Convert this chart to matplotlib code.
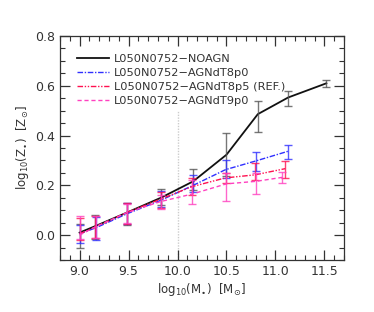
import matplotlib
matplotlib.use("Agg")
import matplotlib.pyplot as plt
from matplotlib.ticker import MultipleLocator

plt.rcParams['font.family'] = ['DejaVu Sans']
plt.rcParams['mathtext.default'] = 'regular'

labels = ["L050N0752\u2212NOAGN", "L050N0752\u2212AGNdT8p0",
          "L050N0752\u2212AGNdT8p5 (REF.)", "L050N0752\u2212AGNdT9p0"]

x_noagn = [9.0, 9.16, 9.48, 9.83, 10.16, 10.5, 10.82, 11.13, 11.52]
y_noagn = [0.01, 0.036, 0.09, 0.15, 0.216, 0.323, 0.486, 0.553, 0.61]
lo_noagn = [-0.05, -0.015, 0.04, 0.119, 0.183, 0.236, 0.414, 0.517, 0.594]
hi_noagn = [0.043, 0.079, 0.127, 0.187, 0.264, 0.41, 0.537, 0.58, 0.624]

x_t8p0 = [9.0, 9.17, 9.48, 9.83, 10.16, 10.49, 10.8, 11.13]
y_t8p0 = [0.005, 0.03, 0.085, 0.14, 0.2, 0.263, 0.298, 0.337]
lo_t8p0 = [-0.03, -0.02, 0.045, 0.112, 0.174, 0.23, 0.256, 0.306]
hi_t8p0 = [0.04, 0.072, 0.127, 0.176, 0.24, 0.303, 0.334, 0.363]

x_t8p5 = [9.0, 9.16, 9.48, 9.83, 10.15, 10.49, 10.79, 11.1]
y_t8p5 = [0.005, 0.032, 0.09, 0.145, 0.195, 0.23, 0.242, 0.267]
lo_t8p5 = [-0.02, -0.012, 0.045, 0.11, 0.16, 0.21, 0.22, 0.23]
hi_t8p5 = [0.07, 0.078, 0.127, 0.172, 0.23, 0.25, 0.29, 0.297]

x_t9p0 = [9.0, 9.17, 9.48, 9.83, 10.15, 10.5, 10.8, 11.07]
y_t9p0 = [0.0, 0.035, 0.09, 0.135, 0.165, 0.206, 0.216, 0.232]
lo_t9p0 = [-0.017, -0.01, 0.05, 0.105, 0.123, 0.136, 0.165, 0.21]
hi_t9p0 = [0.075, 0.075, 0.125, 0.16, 0.223, 0.25, 0.25, 0.255]

series = [
    (x_noagn, y_noagn, lo_noagn, hi_noagn, '#111111', '-', 1.3, '#555555'),
    (x_t8p0, y_t8p0, lo_t8p0, hi_t8p0, '#3030ff', (0, (4, 1.2, 1, 1.2)), 1.0, '#3030ff'),
    (x_t8p5, y_t8p5, lo_t8p5, hi_t8p5, '#ff1050', (0, (4, 1.2, 1, 1.2, 1, 1.2)), 1.0, '#ff1050'),
    (x_t9p0, y_t9p0, lo_t9p0, hi_t9p0, '#ff40c0', (0, (3, 2)), 1.0, '#ff40c0'),
]

fig = plt.figure(figsize=(3.74, 3.12), dpi=100)
ax = fig.add_axes([0.1604, 0.1667, 0.7594, 0.7179])

ax.plot([10.0, 10.0], [-0.1, 0.5], color='#cccccc', ls=(0, (1, 1)), lw=1.0, zorder=0)

for (xs, ys, lo, hi, c, ls, lw, ec), lab in zip(series, labels):
    ax.plot(xs, ys, color=c, ls=ls, lw=lw, label=lab)
    yerr = [[y - l for y, l in zip(ys, lo)], [h - y for y, h in zip(ys, hi)]]
    ax.errorbar(xs, ys, yerr=yerr, fmt='none', ecolor=ec, elinewidth=1.0,
                capsize=2.8, capthick=1.0, alpha=0.8)

ax.set_xlim(8.8, 11.7)
ax.set_ylim(-0.1, 0.8)
ax.xaxis.set_major_locator(MultipleLocator(0.5))
ax.xaxis.set_minor_locator(MultipleLocator(0.1))
ax.yaxis.set_major_locator(MultipleLocator(0.2))
ax.yaxis.set_minor_locator(MultipleLocator(0.05))
ax.tick_params(which='both', direction='in', top=True, right=True,
               colors='#333333', labelsize=9)
ax.tick_params(which='major', length=7, width=0.9)
ax.tick_params(which='minor', length=3.5, width=0.8)
for s in ax.spines.values():
    s.set_color('#333333')
    s.set_linewidth(0.9)

ax.set_xlabel(r'$log_{10}(M_{\bullet})\ \ [M_{\odot}]$', fontsize=8.5, color='#333333', labelpad=2)
ax.set_ylabel(r'$log_{10}(Z_{\bullet})\ \ [Z_{\odot}]$', fontsize=8.5, color='#333333', labelpad=3)

leg = ax.legend(loc='upper left', frameon=False, fontsize=8.2, handlelength=2.75,
                handletextpad=0.45, labelspacing=0.35, borderaxespad=0.0,
                bbox_to_anchor=(0.045, 0.94))
for t in leg.get_texts():
    t.set_color('#333333')

fig.savefig('out.png', dpi=100)
